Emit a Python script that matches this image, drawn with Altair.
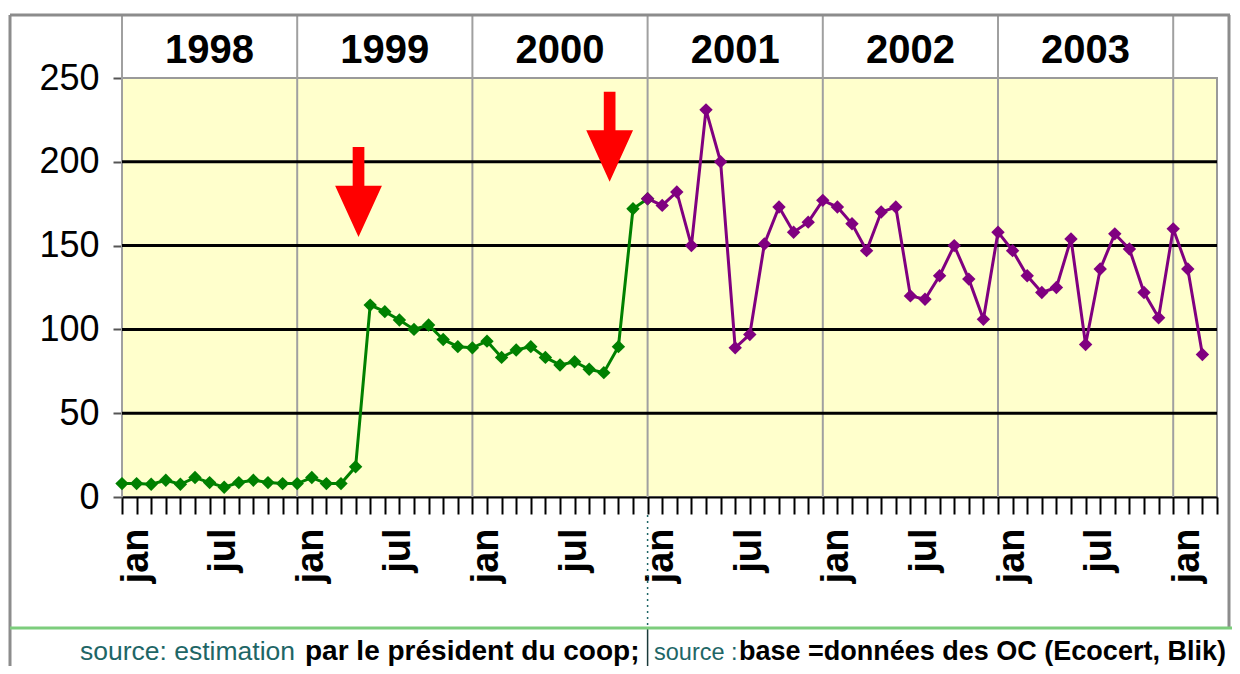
import altair as alt
import pandas as pd

# month index: 0 = Jan 1998, 12 = Jan 1999, ... 72 = Jan 2004
green_month = list(range(0, 37))
green_value = [8, 8, 7.6, 10, 7.6, 11.6, 8.6, 5.8, 8.6, 10,
               8.6, 8, 8, 11.6, 8, 8, 18, 114.5, 110.6, 105.6,
               100, 102.6, 94, 89.7, 89, 93, 83.3, 87.7, 89.7, 83.3,
               78.8, 80.7, 76.2, 74.2, 89.7, 172, 178]
purple_month = list(range(36, 75))
purple_value = [178, 174, 182, 150, 231, 200, 89, 97, 151, 173,
                158, 164, 177, 173, 163, 147, 170, 173, 120, 118,
                132, 150, 130, 106, 158, 147, 132, 122, 125, 154,
                91, 136, 157, 148, 122, 107, 160, 136, 85]

year_labels = ["1998", "1999", "2000", "2001", "2002", "2003"]
year_mid = [6, 18, 30, 42, 54, 66]
year_start = [0, 12, 24, 36, 48, 60, 72]
y_ticks = [0, 50, 100, 150, 200, 250]
grid_values = [50, 100, 150, 200]
month_ticks = list(range(0, 76))
arrow_month = [16.2, 33.4]
arrow_value = [182, 215]
source_break = 36

W, H = 1095, 419
FONT = "Liberation Sans"
TEAL = "#1E6666"

xs = alt.Scale(domain=[0, 75], nice=False, zero=False)
ys = alt.Scale(domain=[0, 250], nice=False)

series_df = pd.DataFrame({
    "m": green_month + purple_month,
    "v": green_value + purple_value,
    "s": ["green"] * len(green_month) + ["purple"] * len(purple_month),
})

x_axis = alt.Axis(
    values=month_ticks, tickCount=200,
    labelExpr="datum.value % 12 == 0 ? 'jan' : (datum.value % 12 == 6 ? 'jul' : '')",
    labelAngle=270, labelAlign="right", labelBaseline="middle",
    labelOffset=14, labelPadding=14, labelFont=FONT, labelFontSize=38,
    labelFontWeight="bold", labelColor="black", labelFlush=False,
    labelOverlap=False, tickSize=17, tickWidth=2, tickColor="black",
    domainColor="black", domainWidth=2, grid=False, title=None,
)
y_axis = alt.Axis(
    values=y_ticks, tickCount=20, labelFont=FONT, labelFontSize=36, labelColor="black",
    labelPadding=14, tickSize=9, tickWidth=2, tickColor="#555555",
    domain=False, grid=False, title=None,
)

X = alt.X("m:Q", scale=xs, axis=x_axis)
Y = alt.Y("v:Q", scale=ys, axis=y_axis)

one = pd.DataFrame({"a": [0]})

year_rules = alt.Chart(pd.DataFrame({"m": year_start})).mark_rule(
    color="#a0a0a0", strokeWidth=2
).encode(x=X, y=alt.value(-63), y2=alt.value(H))

grid_rules = alt.Chart(pd.DataFrame({"v": grid_values})).mark_rule(
    color="black", strokeWidth=3
).encode(y=Y)

lines = alt.Chart(series_df).mark_line(
    strokeWidth=3,
    point=alt.OverlayMarkDef(shape="diamond", size=180, filled=True, opacity=1),
).encode(
    x=X, y=Y,
    color=alt.Color("s:N", scale=alt.Scale(domain=["green", "purple"],
                                           range=["#008000", "#800080"]), legend=None),
)

arrow_path = ("M-0.13,-1L0.13,-1L0.13,-0.14L0.52,-0.14L0,1L-0.52,-0.14L-0.13,-0.14Z")
arrows = alt.Chart(pd.DataFrame({"m": arrow_month, "v": arrow_value})).mark_point(
    shape=arrow_path, size=8100, filled=True, color="#FF0000", opacity=1, strokeWidth=0
).encode(x=X, y=Y)

years = alt.Chart(pd.DataFrame({"m": year_mid, "t": year_labels})).mark_text(
    font=FONT, fontSize=40, fontWeight="bold", color="black", baseline="middle"
).encode(x=X, y=alt.value(-27), text="t:N")

frame_color = "#8c8c8c"
frame_top = alt.Chart(one).mark_rule(color=frame_color, strokeWidth=3).encode(
    x=alt.value(-112), x2=alt.value(1108), y=alt.value(-63))
frame_left = alt.Chart(one).mark_rule(color=frame_color, strokeWidth=3).encode(
    x=alt.value(-112), y=alt.value(-63), y2=alt.value(600))
frame_right = alt.Chart(one).mark_rule(color=frame_color, strokeWidth=3).encode(
    x=alt.value(1107), y=alt.value(-63), y2=alt.value(550))
footer_line = alt.Chart(one).mark_rule(color="#7CCD7C", strokeWidth=3).encode(
    x=alt.value(-112), x2=alt.value(1112), y=alt.value(550))

sep_dotted = alt.Chart(one).mark_rule(color=TEAL, strokeWidth=1.5, strokeDash=[2, 4]).encode(
    x=alt.datum(source_break, scale=xs), y=alt.value(437), y2=alt.value(550))
sep_solid = alt.Chart(one).mark_rule(color="#1a3a3a", strokeWidth=1.5).encode(
    x=alt.datum(source_break, scale=xs), y=alt.value(550), y2=alt.value(600))

def footer(txt, px, color, weight, size):
    return alt.Chart(one).mark_text(
        font=FONT, fontSize=size, fontWeight=weight, color=color,
        align="left", baseline="alphabetic"
    ).encode(x=alt.value(px), y=alt.value(582), text=alt.value(txt))

f1 = footer("source: estimation", -42, TEAL, "normal", 26.5)
f2 = footer("par le président du coop;", 183, "black", "bold", 28)
f3 = footer("source :", 532, TEAL, "normal", 23.5)
f4 = footer("base =données des OC (Ecocert, Blik)", 617, "black", "bold", 27)

chart = alt.layer(
    year_rules, grid_rules, sep_dotted, sep_solid, frame_top, frame_left, frame_right,
    footer_line, lines, arrows, years, f1, f2, f3, f4
).properties(
    width=W, height=H,
    padding={"left": 114, "top": 70, "right": 15, "bottom": 169},
    autosize=alt.AutoSizeParams(type="none"),
).configure_view(fill="#FFFFCC", stroke="#9a9a9a", strokeWidth=2)

chart.save("out.html", embed_options={"renderer": "svg", "actions": False})
